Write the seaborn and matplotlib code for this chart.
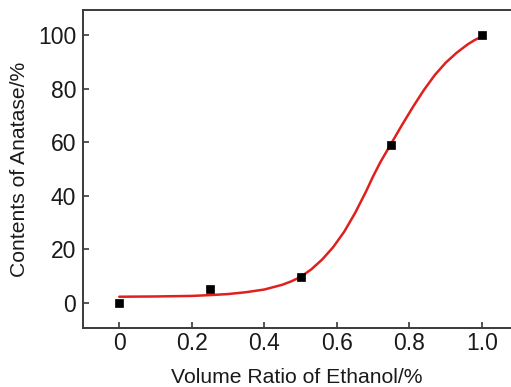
import matplotlib
matplotlib.use("Agg")
import matplotlib.pyplot as plt
import seaborn as sns
import pandas as pd

# measured data points
ratio = [0.0, 0.25, 0.5, 0.75, 1.0]
anatase = [0.0, 5.0, 9.5, 59.0, 100.0]

# fitted curve
fit_x = [0.0, 0.1, 0.2, 0.25, 0.3, 0.35, 0.4, 0.45, 0.475, 0.5, 0.53,
         0.56, 0.59, 0.62, 0.65, 0.68, 0.70, 0.72, 0.75, 0.78, 0.81,
         0.84, 0.87, 0.90, 0.93, 0.96, 0.98, 1.0]
fit_y = [2.2, 2.3, 2.5, 2.8, 3.2, 3.9, 4.9, 6.7, 8.0, 9.6, 12.5,
         16.2, 20.8, 26.5, 33.5, 41.5, 47.3, 52.6, 59.6, 66.6, 73.3,
         79.6, 85.2, 89.8, 93.5, 96.6, 98.3, 99.6]

xticks = [0, 0.2, 0.4, 0.6, 0.8, 1.0]
xticklabels = ["0", "0.2", "0.4", "0.6", "0.8", "1.0"]
yticks = [0, 20, 40, 60, 80, 100]

sns.set_style("white", {"xtick.bottom": True, "ytick.left": True})
plt.rcParams["font.family"] = ["Liberation Sans", "DejaVu Sans"]

fig = plt.figure(figsize=(5.11, 3.87), dpi=100)
ax = fig.add_axes([0.1624, 0.1525, 0.8376, 0.8215])

df_fit = pd.DataFrame({"x": fit_x, "y": fit_y})
df_pts = pd.DataFrame({"x": ratio, "y": anatase})

sns.lineplot(data=df_fit, x="x", y="y", ax=ax, color="#e0201c", linewidth=1.8,
             zorder=2)
sns.scatterplot(data=df_pts, x="x", y="y", ax=ax, marker="s", s=30,
                color="black", edgecolor="black", linewidth=0.5, zorder=3)

ax.set_xlim(-0.1, 1.08)
ax.set_ylim(-9.5, 109.5)
ax.set_xticks(xticks)
ax.set_xticklabels(xticklabels)
ax.set_yticks(yticks)

for side in ["left", "bottom", "top"]:
    ax.spines[side].set_color("#3a3a3a")
    ax.spines[side].set_linewidth(1.4)
ax.spines["right"].set_visible(False)

ax.tick_params(axis="both", direction="in", length=4, width=1.2,
               color="#3a3a3a", labelsize=16.5, labelcolor="#1a1a1a",
               bottom=True, left=True, top=False, right=False)
ax.tick_params(axis="y", pad=5)
ax.tick_params(axis="x", pad=3)

ax.set_xlabel("Volume Ratio of Ethanol/%", fontsize=15.2, color="#1a1a1a",
              labelpad=9)
ax.set_ylabel("Contents of Anatase/%", fontsize=15.2, color="#1a1a1a",
              labelpad=6)

fig.savefig("out.png", dpi=100)
